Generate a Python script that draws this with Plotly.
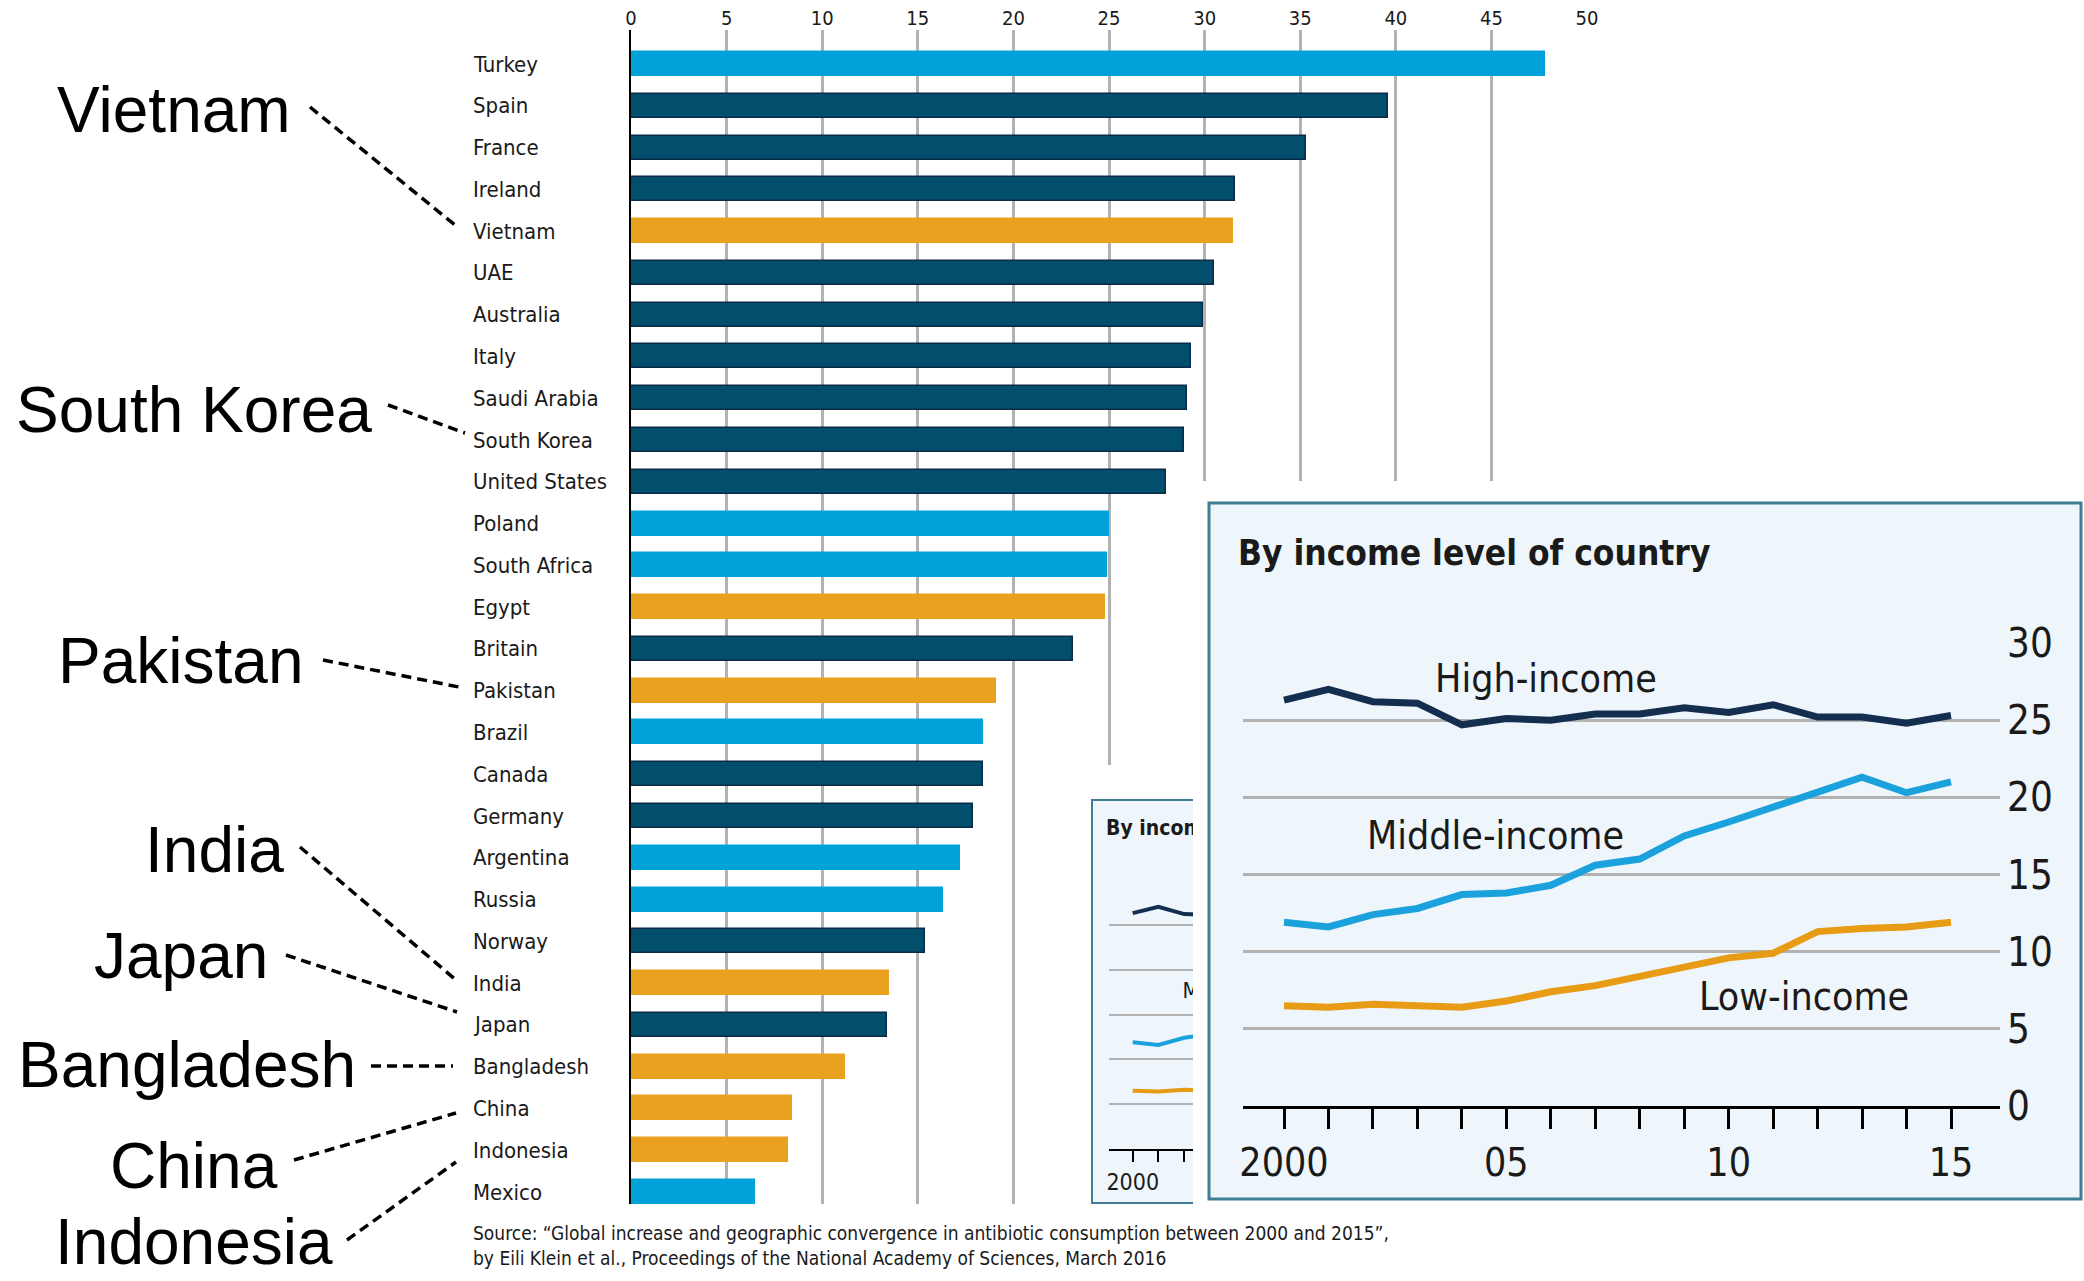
import plotly.graph_objects as go

W, H = 2084, 1281

# antibiotic consumption per country (bar chart)
countries = ["Turkey", "Spain", "France", "Ireland", "Vietnam", "UAE", "Australia", "Italy",
             "Saudi Arabia", "South Korea", "United States", "Poland", "South Africa", "Egypt",
             "Britain", "Pakistan", "Brazil", "Canada", "Germany", "Argentina", "Russia",
             "Norway", "India", "Japan", "Bangladesh", "China", "Indonesia", "Mexico"]
consumption = [47.8, 39.6, 35.3, 31.6, 31.5, 30.5, 29.9, 29.3, 29.1, 28.9, 28.0, 25.0, 24.9,
               24.8, 23.1, 19.1, 18.4, 18.4, 17.9, 17.2, 16.3, 15.4, 13.5, 13.4, 11.2, 8.4,
               8.2, 6.5]
income = ["middle", "high", "high", "high", "low", "high", "high", "high", "high", "high",
          "high", "middle", "middle", "low", "high", "low", "middle", "high", "high", "middle",
          "middle", "high", "low", "high", "low", "low", "low", "middle"]
bar_ticks = [0, 5, 10, 15, 20, 25, 30, 35, 40, 45, 50]

# by income level of country (inset)
years = list(range(2000, 2016))
year_labels = ["2000", "", "", "", "", "05", "", "", "", "", "10", "", "", "", "", "15"]
high_income = [26.3, 27.0, 26.2, 26.1, 24.7, 25.1, 25.0, 25.4, 25.4, 25.8, 25.5, 26.0, 25.2, 25.2, 24.8, 25.3]
middle_income = [11.9, 11.6, 12.4, 12.8, 13.7, 13.8, 14.3, 15.6, 16.0, 17.5, 18.4, 19.4, 20.4, 21.3, 20.3, 21.0]
low_income = [6.5, 6.4, 6.6, 6.5, 6.4, 6.8, 7.4, 7.8, 8.4, 9.0, 9.6, 9.9, 11.3, 11.5, 11.6, 11.9]
inset_ticks = [0, 5, 10, 15, 20, 25, 30]

# highlighted countries on the left
callouts = ["Vietnam", "South Korea", "Pakistan", "India", "Japan", "Bangladesh", "China", "Indonesia"]

FONT = "DejaVu Sans Condensed, DejaVu Sans, sans-serif"
BIG_FONT = "Liberation Sans, Arial, sans-serif"
fill = {"high": "#024F6D", "middle": "#00A2DA", "low": "#E9A11F"}
edge = {"high": "#0A2A48", "middle": "#00A2DA", "low": "#E9A11F"}
line_col = {"high": "#132E4E", "middle": "#1BA1DB", "low": "#E89B14"}
INSET_BG = "#EEF6FB"
INSET_EDGE = "#3F7E93"
GRID = "#B2B2B2"
TXT = "#1a1a1a"


def fx(px):
    return px / W


def fy(py):
    return 1 - py / H


fig = go.Figure()

# main bars
fig.add_trace(go.Bar(
    x=consumption, y=countries, orientation="h", width=0.574,
    marker=dict(color=[fill[g] for g in income],
                line=dict(color=[edge[g] for g in income], width=1.5)),
    xaxis="x", yaxis="y", showlegend=False, hoverinfo="x+y",
))

# empty traces so the frame subplots exist
fig.add_trace(go.Scatter(x=[], y=[], xaxis="x2", yaxis="y2", showlegend=False))
fig.add_trace(go.Scatter(x=[], y=[], xaxis="x4", yaxis="y4", showlegend=False))

# small inset (mostly hidden) and big inset lines
series = [("high", high_income), ("middle", middle_income), ("low", low_income)]
for axes, lw in [(("x3", "y3"), 4), (("x5", "y5"), 7)]:
    for key, vals in series:
        fig.add_trace(go.Scatter(
            x=years, y=vals, mode="lines", line=dict(color=line_col[key], width=lw),
            xaxis=axes[0], yaxis=axes[1], showlegend=False, cliponaxis=False,
        ))

# small inset texts drawn as traces so the big inset covers them
fig.add_trace(go.Scatter(
    x=[2004.75], y=[17.5], mode="text", text=["Middle-income"],
    textfont=dict(family=FONT, size=22, color=TXT),
    xaxis="x3", yaxis="y3", showlegend=False, cliponaxis=False,
))
fig.add_trace(go.Scatter(
    x=[1106], y=[830], mode="text", text=["<b>By income level of country</b>"],
    textposition="middle right",
    textfont=dict(family=FONT, size=21, color=TXT),
    xaxis="x2", yaxis="y2", showlegend=False, cliponaxis=False,
))

shapes = []
# frames: white backing + light box
shapes.append(dict(type="rect", xref="x2", yref="y2", x0=1075, y0=765, x1=1625, y1=1215,
                   fillcolor="white", line=dict(width=0), layer="below"))
shapes.append(dict(type="rect", xref="x2", yref="y2", x0=1092, y0=800, x1=1600, y1=1203,
                   fillcolor=INSET_BG, line=dict(color=INSET_EDGE, width=2), layer="below"))
shapes.append(dict(type="rect", xref="x4", yref="y4", x0=1193, y0=481, x1=2084, y1=1215,
                   fillcolor="white", line=dict(width=0), layer="below"))
shapes.append(dict(type="rect", xref="x4", yref="y4", x0=1209, y0=503, x1=2081, y1=1199,
                   fillcolor=INSET_BG, line=dict(color=INSET_EDGE, width=3), layer="below"))

# dashed leader lines from the callouts
leaders = [((310, 107), (455, 225)), ((388, 405), (465, 433)), ((323, 660), (459, 687)),
           ((300, 847), (456, 980)), ((286, 955), (457, 1012)), ((371, 1066), (453, 1066)),
           ((294, 1160), (456, 1113)), ((347, 1240), (456, 1162))]
for (a, b) in leaders:
    shapes.append(dict(type="line", xref="paper", yref="paper",
                       x0=fx(a[0]), y0=fy(a[1]), x1=fx(b[0]), y1=fy(b[1]),
                       line=dict(color="black", width=3.5, dash="10px,6px")))

annotations = []
# country labels, left aligned
for c in countries:
    annotations.append(dict(x=fx(471), y=c, xref="paper", yref="y", text=c, showarrow=False,
                            xanchor="left", yanchor="middle",
                            font=dict(family=FONT, size=22, color=TXT)))

callout_pos = [(55, 110), (14, 410), (56, 661), (143, 850), (92, 956), (16, 1065), (108, 1166), (53, 1242)]
for name, (px, py) in zip(callouts, callout_pos):
    annotations.append(dict(x=fx(px), y=fy(py), xref="paper", yref="paper", text=name,
                            showarrow=False, xanchor="left", yanchor="middle",
                            font=dict(family=BIG_FONT, size=64, color="black")))

annotations.append(dict(
    x=fx(471), y=fy(1245), xref="paper", yref="paper", showarrow=False,
    xanchor="left", yanchor="middle", align="left",
    text="Source: \u201cGlobal increase and geographic convergence in antibiotic consumption between 2000 and 2015\u201d,"
         "<br>by Eili Klein et al., Proceedings of the National Academy of Sciences, March 2016",
    font=dict(family=FONT, size=19, color=TXT)))

annotations.append(dict(x=fx(1236), y=fy(553), xref="paper", yref="paper", showarrow=False,
                        xanchor="left", yanchor="middle", text="<b>By income level of country</b>",
                        font=dict(family=FONT, size=35, color=TXT)))

for text, xv, yv in [("High-income", 2005.89, 27.7), ("Middle-income", 2004.75, 17.5),
                     ("Low-income", 2011.7, 7.07)]:
    annotations.append(dict(x=xv, y=yv, xref="x5", yref="y5", text=text, showarrow=False,
                            font=dict(family=FONT, size=39, color=TXT)))

hidden = dict(visible=False, fixedrange=True, automargin=False)

fig.update_layout(
    width=W, height=H, margin=dict(l=0, r=0, t=0, b=0, pad=0, autoexpand=False),
    paper_bgcolor="white", plot_bgcolor="rgba(0,0,0,0)",
    font=dict(family=FONT, color=TXT),
    showlegend=False, bargap=0,
    shapes=shapes, annotations=annotations,
    xaxis=dict(domain=[fx(631), fx(1588)], range=[0, 50.05], side="top", anchor="y",
               tickvals=bar_ticks, ticks="", showgrid=True, gridcolor=GRID, gridwidth=2.5,
               zeroline=False, showline=False, tickfont=dict(size=20, color=TXT),
               automargin=False, fixedrange=True),
    yaxis=dict(domain=[fy(1204), fy(30)], type="category", categoryarray=countries,
               range=[27.287, -0.814], showticklabels=False, showgrid=False, ticks="",
               showline=True, linecolor="black", linewidth=2, zeroline=False, anchor="x",
               automargin=False, fixedrange=True),
    # small inset frame (pixel coordinates)
    xaxis2=dict(domain=[fx(1070), fx(1625)], range=[1070, 1625], anchor="y2", **hidden),
    yaxis2=dict(domain=[fy(1215), fy(755)], range=[1215, 755], anchor="x2", **hidden),
    # small inset plot (only its left edge shows)
    xaxis3=dict(domain=[fx(1109), fx(1547)], range=[1999.078, 2016.102], anchor="y3",
                tickvals=years, ticktext=year_labels[:1] + [""] * 15, ticks="outside",
                ticklen=11, tickwidth=2, tickcolor="black", showline=True, linecolor="black",
                linewidth=2, showgrid=False, zeroline=False, tickfont=dict(size=23, color=TXT),
                automargin=False, fixedrange=True),
    yaxis3=dict(domain=[fy(1149), fy(880)], range=[0, 30], anchor="x3", tickvals=inset_ticks,
                showticklabels=False, ticks="", showgrid=True, gridcolor=GRID, gridwidth=2,
                zeroline=False, automargin=False, fixedrange=True),
    # big inset frame (pixel coordinates)
    xaxis4=dict(domain=[fx(1190), 1], range=[1190, 2084], anchor="y4", **hidden),
    yaxis4=dict(domain=[fy(1215), fy(478)], range=[1215, 478], anchor="x4", **hidden),
    # big inset plot
    xaxis5=dict(domain=[fx(1243), fx(2000)], range=[1999.078, 2016.102], anchor="y5",
                tickvals=years, ticktext=year_labels, ticks="outside", ticklen=20, tickwidth=3,
                tickcolor="black", showline=True, linecolor="black", linewidth=3,
                showgrid=False, zeroline=False, tickfont=dict(size=39, color=TXT),
                automargin=False, fixedrange=True),
    yaxis5=dict(domain=[fy(1106), fy(643)], range=[0, 30], anchor="x5", side="right",
                tickvals=inset_ticks, ticks="", showgrid=True, gridcolor=GRID, gridwidth=3,
                zeroline=False, ticklabelstandoff=6, tickfont=dict(size=40, color=TXT),
                automargin=False, fixedrange=True),
)

# page body has an 8px default margin; drop it so the figure sits at the corner
fig.write_html("out.html", config={"displayModeBar": False},
               post_script="document.body.style.margin='0px';")
